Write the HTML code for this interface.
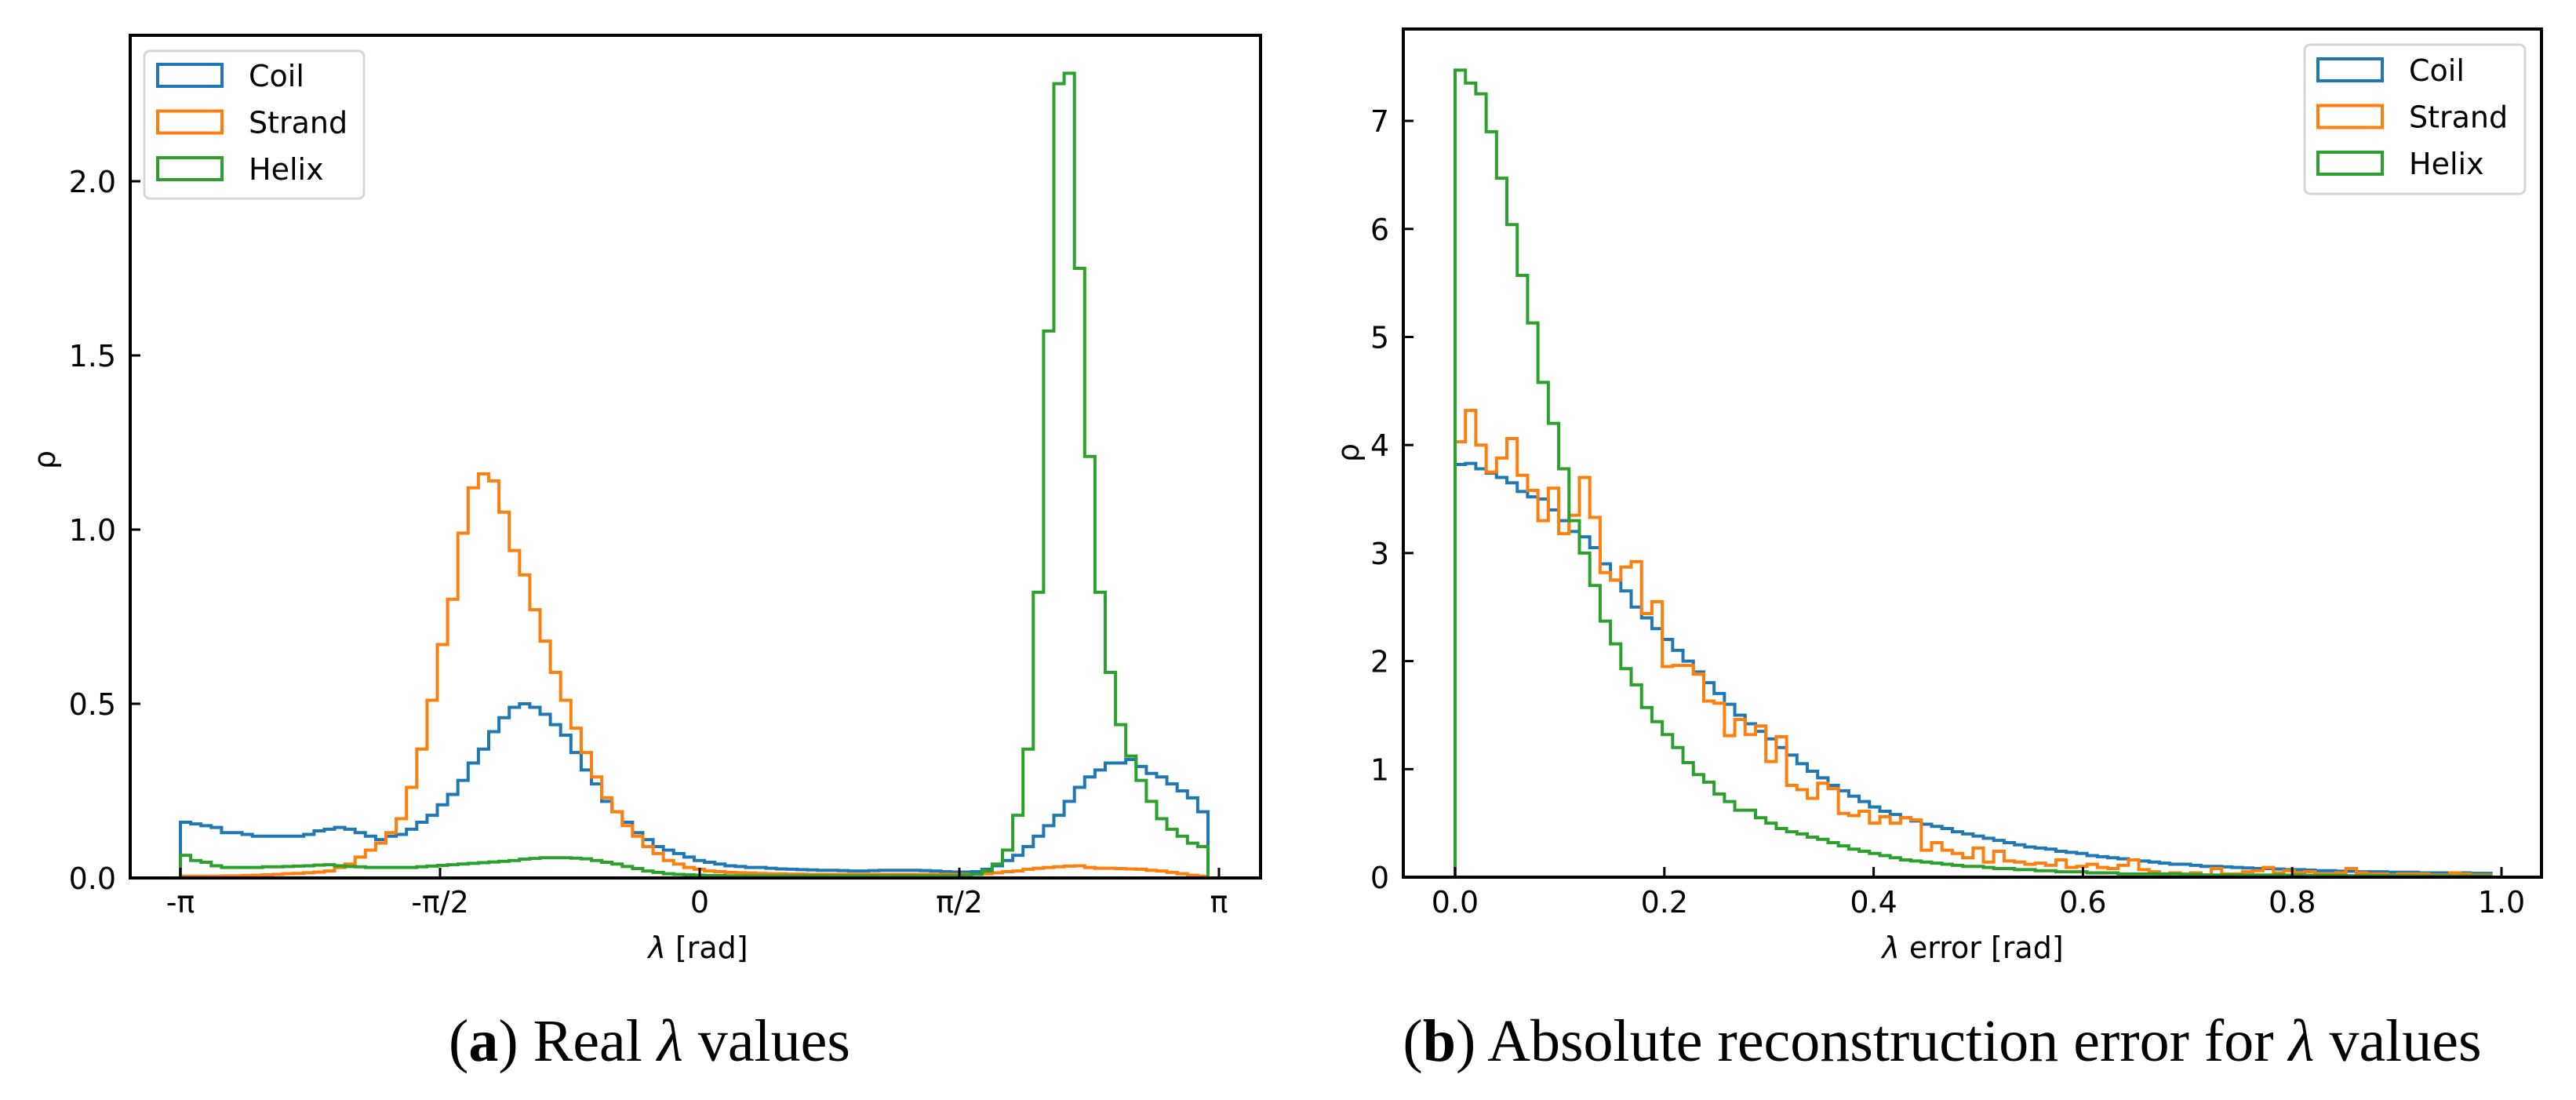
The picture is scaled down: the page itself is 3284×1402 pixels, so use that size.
<!DOCTYPE html>
<html><head><meta charset="utf-8"><style>
html,body{margin:0;padding:0;background:#fff;}
svg{display:block;}
text{font-family:"DejaVu Sans","Liberation Sans",sans-serif;}
.cap{font-family:"Liberation Serif",serif;}
</style></head><body>
<svg id="fig" width="3284" height="1402" viewBox="0 0 3284 1402" xmlns="http://www.w3.org/2000/svg"></svg>
<script>
// ---- Panel (a) data: density per bin, 100 bins over [-pi, pi) ----
const aCoil = [.16,.155,.15,.145,.13,.13,.125,.12,.12,.12,
.12,.12,.125,.135,.14,.145,.14,.13,.12,.11,
.12,.125,.14,.16,.18,.21,.24,.28,.33,.37,
.42,.46,.49,.50,.49,.47,.44,.41,.36,.31,
.27,.22,.19,.16,.13,.11,.09,.08,.07,.06,
.05,.045,.04,.035,.033,.03,.03,.028,.026,.025,
.024,.023,.022,.022,.021,.02,.02,.021,.022,.022,
.022,.022,.021,.02,.018,.017,.017,.018,.025,.035,
.05,.065,.09,.12,.15,.18,.22,.26,.29,.31,
.33,.33,.34,.32,.30,.29,.27,.25,.23,.19];
const aStrand = [.005,.005,.005,.005,.006,.006,.007,.008,.009,.01,
.012,.013,.015,.017,.02,.03,.04,.06,.08,.10,
.13,.17,.26,.37,.51,.67,.80,.99,1.12,1.16,
1.14,1.05,.94,.87,.77,.68,.59,.51,.43,.36,
.29,.23,.19,.15,.12,.09,.07,.05,.04,.03,
.025,.02,.018,.016,.015,.014,.013,.012,.012,.011,
.011,.01,.01,.01,.01,.01,.01,.01,.01,.01,
.01,.01,.01,.01,.01,.01,.01,.01,.012,.015,
.018,.02,.025,.028,.03,.032,.034,.035,.03,.028,
.028,.027,.026,.025,.022,.02,.016,.012,.008,.005];
const aHelix = [.065,.05,.045,.035,.03,.03,.03,.03,.032,.032,
.033,.034,.035,.037,.038,.035,.033,.032,.03,.03,
.03,.03,.03,.032,.034,.036,.038,.04,.042,.044,
.046,.048,.05,.054,.056,.058,.058,.058,.057,.055,
.05,.045,.04,.033,.027,.02,.016,.012,.01,.009,
.008,.007,.007,.006,.006,.006,.006,.006,.006,.006,
.006,.006,.006,.006,.006,.006,.006,.006,.006,.006,
.006,.006,.006,.006,.006,.006,.008,.01,.02,.04,
.08,.18,.37,.82,1.57,2.28,2.31,1.75,1.21,.82,
.59,.44,.35,.28,.22,.17,.14,.12,.10,.09];
const aXTicks = [-Math.PI,-Math.PI/2,0,Math.PI/2,Math.PI];
const aXTickLabels = ["-π","-π/2","0","π/2","π"];
const aYTicks = [0,0.5,1.0,1.5,2.0];
const aYTickLabels = ["0.0","0.5","1.0","1.5","2.0"];

// ---- Panel (b) data: density per bin, 100 bins over [0, 0.99) ----
const bCoil = [3.82,3.83,3.78,3.74,3.7,3.65,3.57,3.52,3.5,3.4,
3.3,3.2,3.15,3.05,2.9,2.75,2.65,2.5,2.4,2.3,
2.2,2.1,2.0,1.9,1.8,1.7,1.6,1.5,1.42,1.35,
1.28,1.2,1.13,1.05,.98,.92,.85,.8,.75,.7,
.65,.61,.58,.55,.52,.49,.47,.45,.42,.4,
.38,.36,.34,.32,.3,.28,.27,.26,.24,.23,
.22,.2,.19,.18,.17,.16,.15,.14,.13,.12,
.12,.11,.1,.1,.095,.09,.085,.08,.08,.075,
.07,.07,.065,.06,.06,.055,.055,.05,.05,.05,
.045,.045,.045,.04,.04,.04,.04,.04,.035,.035];
const bStrand = [4.03,4.32,4.0,3.75,3.88,4.06,3.72,3.58,3.3,3.6,
3.18,3.35,3.7,3.33,2.82,2.75,2.87,2.92,2.44,2.55,
1.95,1.96,1.96,1.88,1.63,1.61,1.31,1.46,1.32,1.4,
1.07,1.3,.85,.81,.73,.87,.82,.59,.57,.61,
.5,.56,.5,.55,.53,.25,.32,.25,.22,.18,
.27,.14,.24,.15,.14,.12,.13,.11,.16,.09,
.1,.12,.09,.08,.11,.16,.07,.05,.03,.04,
.03,.04,.02,.08,.03,.03,.05,.06,.09,.04,
.06,.04,.05,.03,.03,.04,.08,.04,.03,.03,
.02,.03,.03,.03,.02,.02,.04,.03,.02,.02];
const bHelix = [7.47,7.35,7.25,6.9,6.47,6.04,5.57,5.13,4.58,4.2,
3.78,3.3,3.0,2.7,2.37,2.16,1.93,1.78,1.57,1.44,
1.32,1.2,1.06,.95,.88,.77,.7,.62,.62,.55,
.5,.45,.42,.4,.37,.35,.32,.29,.26,.24,
.22,.2,.18,.16,.15,.14,.13,.12,.11,.1,
.1,.09,.08,.08,.07,.07,.06,.06,.05,.05,
.05,.04,.04,.04,.03,.03,.03,.03,.03,.03,
.025,.025,.02,.02,.02,.02,.02,.02,.02,.02,
.018,.018,.016,.016,.015,.015,.014,.014,.013,.013,
.012,.012,.012,.011,.011,.011,.01,.01,.01,.01];
const bXTicks = [0,0.2,0.4,0.6,0.8,1.0];
const bXTickLabels = ["0.0","0.2","0.4","0.6","0.8","1.0"];
const bYTicks = [0,1,2,3,4,5,6,7];
const bYTickLabels = ["0","1","2","3","4","5","6","7"];

const seriesNames = ["Coil","Strand","Helix"];
const colors = ["#1f77b4","#ff7f0e","#2ca02c"];

const NS = "http://www.w3.org/2000/svg";
const svg = document.getElementById("fig");
function mk(tag, attrs, parent){
  const e = document.createElementNS(NS, tag);
  for (const k in attrs) e.setAttribute(k, attrs[k]);
  (parent||svg).appendChild(e);
  return e;
}

function panel(cfg){
  const g = mk("g", {});
  
  
  const sx = v => cfg.x0 + (v - cfg.xd0) * cfg.xs;
  const sy = v => cfg.y0 - v * cfg.ys;
  // series
  cfg.series.forEach((arr, si) => {
    let d = "M" + sx(cfg.binStart) + "," + sy(0);
    arr.forEach((v, i) => {
      const xa = sx(cfg.binStart + i * cfg.binW), xb = sx(cfg.binStart + (i + 1) * cfg.binW);
      d += " L" + xa.toFixed(2) + "," + sy(v).toFixed(2) + " L" + xb.toFixed(2) + "," + sy(v).toFixed(2);
    });
    d += " L" + sx(cfg.binStart + arr.length * cfg.binW).toFixed(2) + "," + sy(0);
    const p = mk("path", {d: d, fill: "none", stroke: colors[si], "stroke-width": 4, "stroke-linejoin": "miter"}, g);
    
    
  });
  // frame
  const fr = mk("rect", {x: cfg.fx0, y: cfg.fy0, width: cfg.fx1 - cfg.fx0, height: cfg.fy1 - cfg.fy0, fill: "none", stroke: "#000", "stroke-width": 4}, g);
  
  
  // x ticks
  cfg.xTicks.forEach((t, i) => {
    const x = sx(t);
    const tk = mk("line", {x1: x, x2: x, y1: cfg.fy1, y2: cfg.fy1 - 13, stroke: "#000", "stroke-width": 3}, g);
    
    
    const tl = mk("text", {x: x, y: 1163, "font-size": 38, "text-anchor": "middle", fill: "#000"}, g);
    tl.textContent = cfg.xLabels[i];
    if (cfg.italicX) tl.setAttribute("font-style", "italic");
    
    
  });
  // y ticks
  cfg.yTicks.forEach((t, i) => {
    const y = sy(t);
    const tk = mk("line", {x1: cfg.fx0, x2: cfg.fx0 + 13, y1: y, y2: y, stroke: "#000", "stroke-width": 3}, g);
    
    
    const tl = mk("text", {x: cfg.fx0 - 18, y: y + 14, "font-size": 38, "text-anchor": "end", fill: "#000"}, g);
    tl.textContent = cfg.yLabels[i];
    
    
  });
  // axis labels
  const xl = mk("text", {x: cfg.xlx, y: 1221, "font-size": 38, "text-anchor": "middle", fill: "#000"}, g);
  xl.innerHTML = '<tspan font-style="italic">λ</tspan> ' + cfg.xTitle;
  
  
  const yl = mk("text", {x: 0, y: 0, "font-size": 38, "text-anchor": "middle", fill: "#000", transform: "translate(" + cfg.ylx + "," + cfg.yly + ") rotate(-90)"}, g);
  yl.textContent = "ρ";
  
  
  // legend
  const L = cfg.leg;
  const lg = mk("g", {}, g);
  
  
  mk("rect", {x: L.x, y: L.y, width: L.w, height: L.h, rx: 7, fill: "#fff", "fill-opacity": 0.8, stroke: "#d6d6d6", "stroke-width": 3}, lg);
  seriesNames.forEach((n, i) => {
    const e = mk("g", {}, lg);
    
    
    mk("rect", {x: L.px, y: L.py + i * 59.5, width: 82, height: 28, fill: "none", stroke: colors[i], "stroke-width": 4}, e);
    const t = mk("text", {x: L.tx, y: L.py + 28 + i * 59.5, "font-size": 38, fill: "#000"}, e);
    t.textContent = n;
  });
  // caption
  const cap = mk("text", {x: cfg.capx, y: 1352, "font-size": 76, "text-anchor": "middle", fill: "#000", class: "cap"}, g);
  cap.innerHTML = cfg.caption;
  
  
}

panel({
  name: "panel-a", prefix: "panel-a",
  x0: 230, xd0: -Math.PI, xs: 331 / (Math.PI / 2),
  y0: 1119, ys: 444,
  binStart: -Math.PI, binW: (1540 - 230) / 100 / (331 / (Math.PI / 2)),
  series: [aCoil, aStrand, aHelix],
  fx0: 166, fx1: 1607, fy0: 45, fy1: 1119,
  xTicks: aXTicks, xLabels: aXTickLabels, italicX: false,
  yTicks: aYTicks, yLabels: aYTickLabels,
  xlx: 890, xTitle: "[rad]", ylx: 70, yly: 586,
  leg: {x: 184, y: 65, w: 280, h: 188, px: 201, py: 82, tx: 317},
  capx: 828, caption: '(<tspan font-weight="bold">a</tspan>) Real <tspan font-style="italic">λ</tspan> values'
});
panel({
  name: "panel-b", prefix: "panel-b",
  x0: 1855, xd0: 0, xs: 1334,
  y0: 1118, ys: 137.7,
  binStart: 0, binW: 0.0099,
  series: [bCoil, bStrand, bHelix],
  fx0: 1789, fx1: 3240, fy0: 37, fy1: 1118,
  xTicks: bXTicks, xLabels: bXTickLabels, italicX: false,
  yTicks: bYTicks, yLabels: bYTickLabels,
  xlx: 2515, xTitle: "error [rad]", ylx: 1732, yly: 577,
  leg: {x: 2938, y: 57, w: 281, h: 190, px: 2955, py: 75, tx: 3071},
  capx: 2476, caption: '(<tspan font-weight="bold">b</tspan>) Absolute reconstruction error for <tspan font-style="italic">λ</tspan> values'
});
</script>
</body></html>
